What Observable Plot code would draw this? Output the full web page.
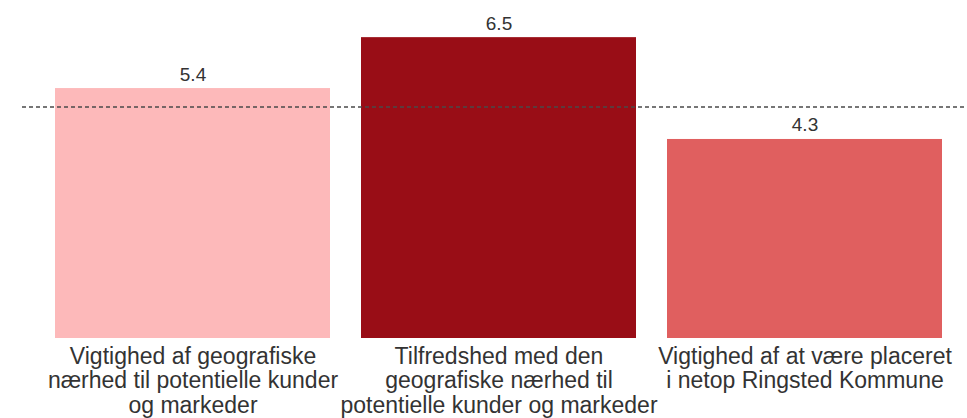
<!DOCTYPE html>
<html>
<head>
<meta charset="utf-8">
<script src="https://cdn.jsdelivr.net/npm/d3@7"></script>
<script src="https://cdn.jsdelivr.net/npm/@observablehq/plot@0.6"></script>
<style>
  html, body { margin: 0; padding: 0; background: #fff; }
  #chart svg { display: block; }
</style>
</head>
<body>
<div id="chart"></div>
<script>
const categories = [
  "Vigtighed af geografiske\nnærhed til potentielle kunder\nog markeder",
  "Tilfredshed med den\ngeografiske nærhed til\npotentielle kunder og markeder",
  "Vigtighed af at være placeret\ni netop Ringsted Kommune"
];
const values = [5.4, 6.5, 4.3];
const labels = ["5.4", "6.5", "4.3"];
const colors = ["#fdb9ba", "#990d16", "#e05f5f"];
const referenceLine = [5.0];

const data = categories.map((c, i) => ({cat: c, value: values[i], label: labels[i], color: colors[i]}));

const chart = Plot.plot({
  width: 967,
  height: 418,
  marginLeft: 22,
  marginRight: 0,
  marginTop: 14,
  marginBottom: 80,
  style: {fontFamily: "'Liberation Sans', Arial, sans-serif", background: "#fff"},
  x: {domain: categories, paddingInner: 0.1, paddingOuter: 0.094, align: 0.573, label: null},
  y: {domain: [0, 7], axis: null},
  color: {type: "identity"},
  marks: [
    Plot.barY(data, {x: "cat", y: "value", fill: "color"}),
    Plot.ruleY(referenceLine, {stroke: "#4a4a4a", strokeWidth: 1.6, strokeDasharray: "4,3"}),
    Plot.text(data, {x: "cat", y: "value", text: "label", lineAnchor: "bottom", dy: -8, fontSize: 19, fill: "#333"}),
    Plot.axisX({tickSize: 0, tickPadding: 8, fontSize: 23, lineHeight: 1.065, fill: "#333", label: null})
  ]
});
document.getElementById("chart").appendChild(chart);
</script>
</body>
</html>
